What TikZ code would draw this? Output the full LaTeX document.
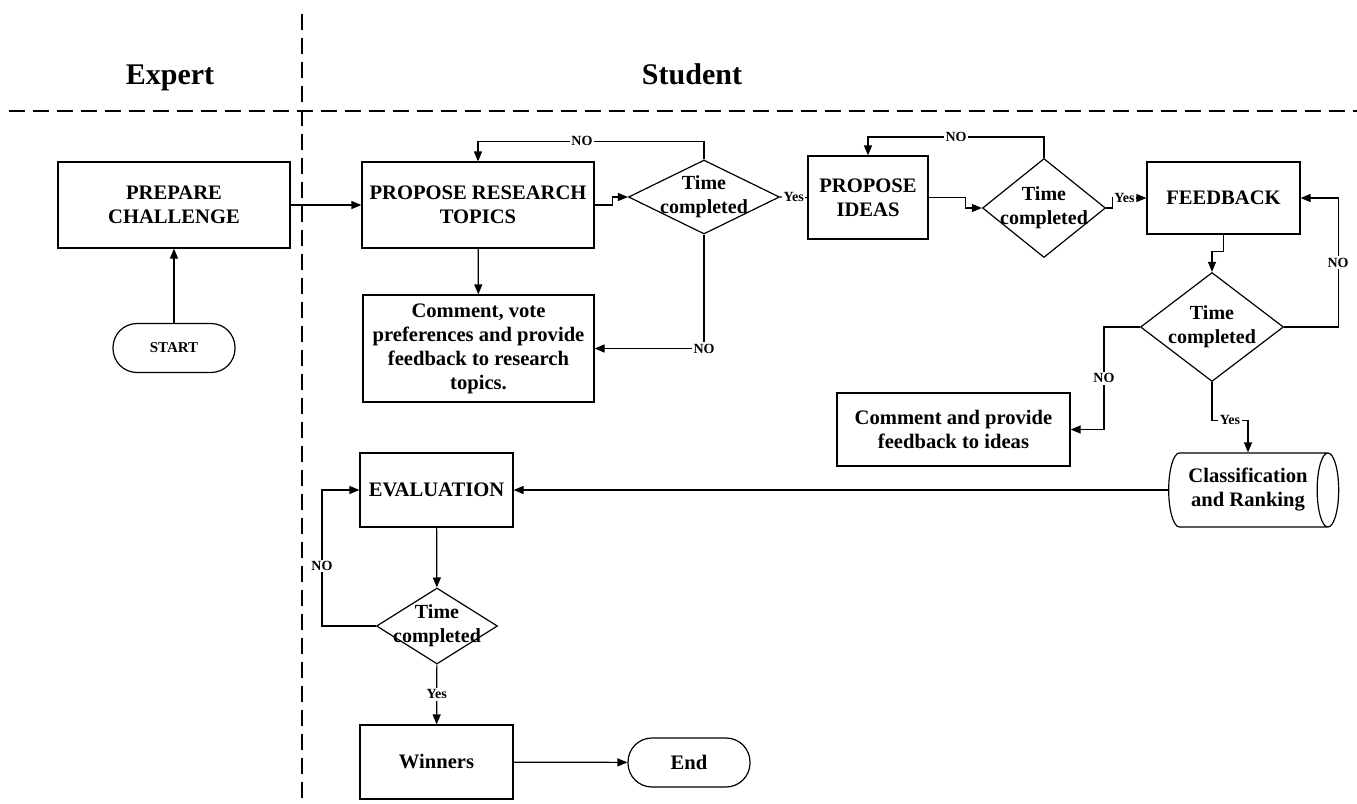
\documentclass[tikz,border=0pt]{standalone}
\usepackage{fontspec}
\setmainfont{Liberation Serif}
\usetikzlibrary{arrows.meta,shapes.geometric}

\begin{document}
\begin{tikzpicture}[x=0.5pt, y=-0.5pt,
    lane/.style={line width=0.6pt, dash pattern=on 8pt off 4pt},
    head/.style={anchor=base, font=\fontsize{15}{18}\selectfont\bfseries},
    box/.style={draw, line width=0.6pt, align=center, inner sep=0pt, font=\fontsize{10.3}{12}\selectfont\bfseries},
    term/.style={box, rounded corners=12pt, minimum width=61pt, minimum height=24.5pt},
    decision/.style={draw, diamond, line width=0.6pt, inner sep=0pt},
    dtext/.style={align=center, inner sep=0pt, font=\fontsize{10}{12}\selectfont\bfseries},
    store/.style={box, cylinder, aspect=0.5, minimum width=37pt, minimum height=85pt},
    flow/.style={line width=0.6pt, -{Triangle[length=5pt,width=4pt]}},
    lbl/.style={fill=white, inner sep=0.8pt, font=\fontsize{7}{8}\selectfont\bfseries}]
    \useasboundingbox (0,0) rectangle (1357,804);
    \draw[lane] (302,14) -- (302,804);
    \draw[lane] (9,111) -- (1357,111);
    \node[head] (expert) at (170,84) {Expert};
    \node[head] (student) at (692,84) {Student};
    \node[box, minimum width=116pt, minimum height=43pt] (prep) at (174,205) {PREPARE\\CHALLENGE};
    \node[term] (start) at (174,348) {\fontsize{7.5}{9}\selectfont START};
    \node[box, minimum width=116pt, minimum height=43pt] (topics) at (478,205) {PROPOSE RESEARCH\\TOPICS};
    \node[box, minimum width=115.5pt, minimum height=53.5pt] (cmt1) at (478.5,348.5) {Comment, vote\\preferences and provide\\feedback to research\\topics.};
    \node[box, minimum width=60pt, minimum height=41.5pt] (ideas) at (868,197.5) {PROPOSE\\IDEAS};
    \node[box, minimum width=76.5pt, minimum height=36pt] (fb) at (1223.5,198) {FEEDBACK};
    \node[box, minimum width=116.5pt, minimum height=36.5pt] (cmt2) at (953.5,429.5) {Comment and provide\\feedback to ideas};
    \node[store] (rank) at (1248,490) {Classification\\and Ranking};
    \node[box, minimum width=76.5pt, minimum height=37pt] (eval) at (436.5,490) {EVALUATION};
    \node[box, minimum width=76.5pt, minimum height=37pt] (win) at (436.5,762) {Winners};
    \node[term] (fin) at (689,762.5) {End};
    \foreach \nm/\xx/\yy/\w/\h in {d1/704/197/75.5/37, d2/1044/208/61.5/49.5, d3/1212/327/71.5/54.5, d4/437/626/60.5/38} {
      \node[decision, minimum width=\w pt, minimum height=\h pt, label={[dtext]center:Time\\completed}] (\nm) at (\xx,\yy) {};
      }
    \draw[flow] (start) -- (prep);
    \draw[flow] (prep) -- (topics);
    \draw[flow] (topics.east) -- ++(18,0) |- (d1.west);
    \draw[flow] (topics) -- (cmt1);
    \draw[flow] (d1.north) -- ++(0,-18) -| node[lbl, pos=0.27] {NO} (topics.north);
    \draw[flow] (d1.south) |- node[lbl, pos=0.5] {NO} (cmt1.east);
    \draw[line width=0.6pt] (d1.east) -- node[lbl, pos=0.5] {Yes} (ideas.west);
    \draw[flow] (ideas.east) -- ++(37,0) |- (d2.west);
    \draw[flow] (d2.north) -- ++(0,-21) -| node[lbl, pos=0.25] {NO} (ideas.north);
    \draw[flow] (d2.east) -- ++(6,0) |- node[lbl, pos=0.68] {Yes} (fb.west);
    \draw[flow] (fb.south) -- ++(0,17) -| (d3.north);
    \draw[flow] (d3.east) -- ++(54,0) |- node[lbl, pos=0.25] {NO} (fb.east);
    \draw[flow] (d3.west) -- ++(-36,0) |- node[lbl, pos=0.25] {NO} (cmt2.east);
    \draw[flow] (d3.south) -- ++(0,38) -| node[lbl, pos=0.25] {Yes} (rank.north);
    \draw[flow] (rank) -- (eval);
    \draw[flow] (eval) -- (d4);
    \draw[flow] (d4.west) -- ++(-54,0) |- node[lbl, pos=0.22] {NO} (eval.west);
    \draw[flow] (d4) -- node[lbl, pos=0.5] {Yes} (win);
    \draw[flow] (win) -- (fin);
  \end{tikzpicture}
\end{document}
